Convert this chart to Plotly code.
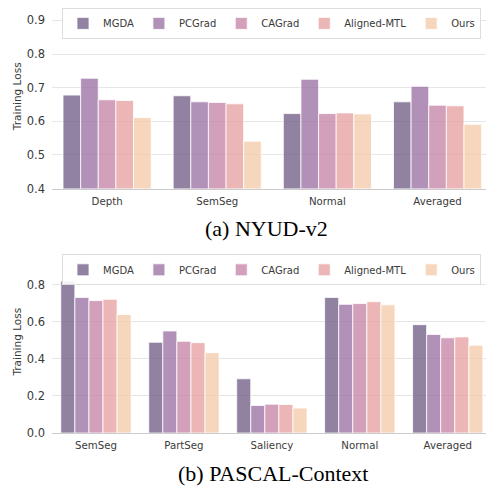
import plotly.graph_objects as go

methods = ["MGDA", "PCGrad", "CAGrad", "Aligned-MTL", "Ours"]
colors = ["rgba(108,88,131,0.75)", "rgba(152,108,162,0.75)", "rgba(196,128,166,0.75)",
          "rgba(230,158,158,0.75)", "rgba(243,202,168,0.75)"]

nyud_tasks = ["Depth", "SemSeg", "Normal", "Averaged"]
nyud_mgda = [0.678, 0.676, 0.623, 0.658]
nyud_pcgrad = [0.728, 0.658, 0.725, 0.704]
nyud_cagrad = [0.664, 0.656, 0.623, 0.648]
nyud_aligned = [0.662, 0.652, 0.625, 0.646]
nyud_ours = [0.611, 0.541, 0.622, 0.591]

pascal_tasks = ["SemSeg", "PartSeg", "Saliency", "Normal", "Averaged"]
pascal_mgda = [0.821, 0.490, 0.293, 0.732, 0.585]
pascal_pcgrad = [0.732, 0.551, 0.149, 0.695, 0.532]
pascal_cagrad = [0.715, 0.495, 0.156, 0.699, 0.514]
pascal_aligned = [0.722, 0.488, 0.154, 0.709, 0.519]
pascal_ours = [0.640, 0.434, 0.135, 0.692, 0.474]

nyud_vals = [nyud_mgda, nyud_pcgrad, nyud_cagrad, nyud_aligned, nyud_ours]
pascal_vals = [pascal_mgda, pascal_pcgrad, pascal_cagrad, pascal_aligned, pascal_ours]

W, H = 486, 491
fig = go.Figure()

for i, m in enumerate(methods):
    fig.add_trace(go.Bar(
        x=nyud_tasks, y=nyud_vals[i], name=m, xaxis="x", yaxis="y",
        marker=dict(color=colors[i], line=dict(color="rgba(255,255,255,0.8)", width=1)),
        legend="legend", offsetgroup=str(i)))
for i, m in enumerate(methods):
    fig.add_trace(go.Bar(
        x=pascal_tasks, y=pascal_vals[i], name=m, xaxis="x2", yaxis="y2",
        marker=dict(color=colors[i], line=dict(color="rgba(255,255,255,0.8)", width=1)),
        legend="legend2", offsetgroup=str(i)))

txt = "#3a3a3a"
tickfont_y = dict(family="DejaVu Sans", size=11.5, color=txt)
tickfont_x = dict(family="DejaVu Sans", size=10.2, color=txt)
xdom = [52 / W, 1.0]

def ydom(top_px, bot_px):
    return [1 - bot_px / H, 1 - top_px / H]

common_x = dict(domain=xdom, showgrid=False, showline=True, linecolor="#cccccc",
                linewidth=1, ticks="", tickfont=tickfont_x, zeroline=False,
                ticklabelstandoff=3)
common_y = dict(showgrid=True, gridcolor="#e6e6e6", gridwidth=1, showline=False,
                zeroline=False, ticks="", tickfont=tickfont_y, ticklabelstandoff=6,
                title=dict(text="Training Loss", font=dict(family="DejaVu Sans", size=10.5, color=txt), standoff=3))

fig.update_layout(
    width=W, height=H, autosize=False,
    margin=dict(l=0, r=0, t=0, b=0),
    paper_bgcolor="white", plot_bgcolor="white",
    barmode="group", bargap=0.2, bargroupgap=0,
    xaxis=dict(common_x, anchor="y", range=[-0.5, 3.44]),
    yaxis=dict(common_y, anchor="x", domain=ydom(4, 191.3), range=[0.4, 0.949],
               tickvals=[0.4, 0.5, 0.6, 0.7, 0.8, 0.9], ticktext=["0.4", "0.5", "0.6", "0.7", "0.8", "0.9"]),
    xaxis2=dict(common_x, anchor="y2", range=[-0.5, 4.435]),
    yaxis2=dict(common_y, anchor="x2", domain=ydom(254, 439.3), range=[0, 0.986],
                tickvals=[0.0, 0.2, 0.4, 0.6, 0.8], ticktext=["0.0", "0.2", "0.4", "0.6", "0.8"]),
    legend=dict(orientation="h", x=62 / W, y=1 - 8 / H, xanchor="left", yanchor="top",
                bgcolor="rgba(255,255,255,0.9)", bordercolor="#dddddd", borderwidth=1,
                font=dict(family="DejaVu Sans", size=10, color=txt), itemwidth=30,
                traceorder="normal"),
    legend2=dict(orientation="h", x=62 / W, y=1 - 258 / H, xanchor="left", yanchor="top",
                 bgcolor="rgba(255,255,255,0.9)", bordercolor="#dddddd", borderwidth=1,
                 font=dict(family="DejaVu Sans", size=10, color=txt), itemwidth=30,
                 traceorder="normal"),
    annotations=[
        dict(text="(a) NYUD-v2", x=266 / W, y=1 - 232 / H, xref="paper", yref="paper",
             showarrow=False, xanchor="center", yanchor="middle",
             font=dict(family="Liberation Serif", size=22, color="black")),
        dict(text="(b) PASCAL-Context", x=273 / W, y=1 - 480 / H, xref="paper", yref="paper",
             showarrow=False, xanchor="center", yanchor="middle",
             font=dict(family="Liberation Serif", size=22, color="black")),
    ],
)

fig.write_html("out.html", config={"displayModeBar": False, "responsive": False},
               post_script="document.body.style.margin='0';")
